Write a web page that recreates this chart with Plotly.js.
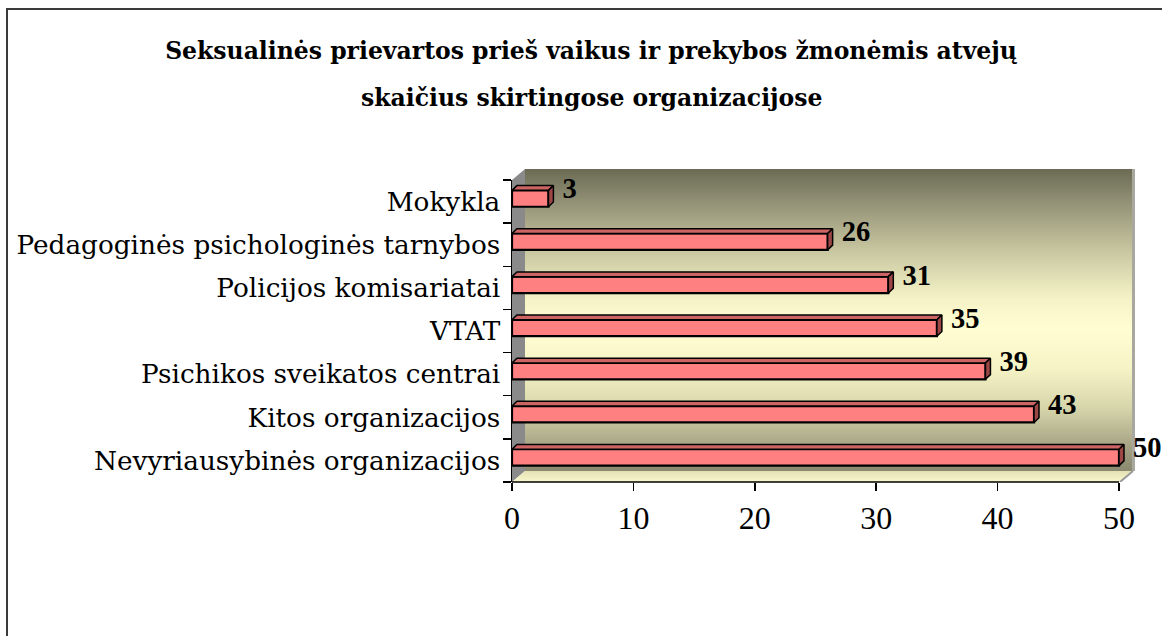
<!DOCTYPE html>
<html><head><meta charset="utf-8">
<script src="https://cdn.plot.ly/plotly-3.0.1.min.js"></script>
<style>html,body{margin:0;padding:0;background:#fff;overflow:hidden;} #chart{width:1162px;height:636px;}</style>
</head><body><div id="chart"></div>
<script>
// ---- data (bottom to top) ----
const categories = ['Nevyriausybinės organizacijos','Kitos organizacijos','Psichikos sveikatos centrai','VTAT','Policijos komisariatai','Pedagoginės psichologinės tarnybos','Mokykla'];
const values = [50, 43, 39, 35, 31, 26, 3];
const xTickVals = [0, 10, 20, 30, 40, 50];
const titleLine1 = 'Seksualinės prievartos prieš vaikus ir prekybos žmonėmis atvejų';
const titleLine2 = 'skaičius skirtingose organizacijose';

// ---- geometry / style ----
const W = 1162, H = 636;
const M = {l: 512, r: 2, t: 180, b: 154};
const plotW = W - M.l - M.r, plotH = H - M.t - M.b;
const axisEndPx = 1119;                                  // pixel where the axis maximum sits
const xMax = xTickVals[xTickVals.length - 1];
const xRangeMax = xMax * plotW / (axisEndPx - M.l);      // extra room on the right for 3D faces/labels
const barWidth = 0.38, barOffset = -0.12;                // category units
const depthX = 0.41, depthY = 0.11;                      // 3D depth in data units
const labelGap = 0.75;
const FRONT = '#ff8080', TOP = '#cc6464', SIDE = '#9c4646';

// ---- background wall (decoration) drawn on a canvas ----
const cw = 624, ch = 313, dX = 13, dY = 11;
const cv = document.createElement('canvas'); cv.width = cw; cv.height = ch;
const c = cv.getContext('2d');
const g = c.createLinearGradient(0, 0, 0, ch - dY);
[[0,'#6b6b55'],[0.1,'#8f8e73'],[0.27,'#c8c6a0'],[0.43,'#f5f3c6'],[0.53,'#fffdd2'],[0.66,'#f6f4c6'],[0.8,'#d4d2a8'],[0.93,'#a09e80'],[1,'#8a8970']]
  .forEach(s => g.addColorStop(s[0], s[1]));
c.fillStyle = g; c.fillRect(dX, 0, cw - dX - 4, ch - dY);
c.fillStyle = '#a8a8a0'; c.fillRect(cw - 4, 0, 3, ch - dY);
c.fillStyle = '#8a8a8a';
c.beginPath(); c.moveTo(0, dY); c.lineTo(dX, 0); c.lineTo(dX, ch - dY); c.lineTo(0, ch); c.closePath(); c.fill();
const fg = c.createLinearGradient(0, ch - dY, 0, ch);
fg.addColorStop(0, '#e4e2b4'); fg.addColorStop(1, '#f8f6cc');
c.fillStyle = fg;
c.beginPath(); c.moveTo(0, ch); c.lineTo(dX, ch - dY); c.lineTo(cw - 4, ch - dY); c.lineTo(cw - 4 - dX, ch); c.closePath(); c.fill();
c.strokeStyle = '#999'; c.lineWidth = 2;
c.beginPath(); c.moveTo(cw - 3, ch - dY); c.lineTo(cw - 3 - dX, ch); c.stroke();
const wallImg = cv.toDataURL('image/png');

// ---- 3D faces computed from data ----
const topX = [], topY = [], sideX = [], sideY = [];
values.forEach((v, i) => {
  const y0 = i + barOffset, y1 = i + barOffset + barWidth;
  topX.push(0, v, v + depthX, depthX, 0, null);
  topY.push(y1, y1, y1 + depthY, y1 + depthY, y1, null);
  sideX.push(v, v, v + depthX, v + depthX, v, null);
  sideY.push(y0, y1, y1 + depthY, y0 + depthY, y0, null);
});
const idx = values.map((v, i) => i);

const traces = [
  {type: 'bar', orientation: 'h', y: categories, x: values,
   width: barWidth, offset: barOffset,
   marker: {color: FRONT, line: {color: '#000', width: 2.2}},
   hoverinfo: 'x+y', showlegend: false},
  {type: 'scatter', mode: 'lines', x: topX, y: topY, yaxis: 'y2', fill: 'toself',
   fillcolor: TOP, line: {color: '#000', width: 1.5}, hoverinfo: 'skip', showlegend: false},
  {type: 'scatter', mode: 'lines', x: sideX, y: sideY, yaxis: 'y2', fill: 'toself',
   fillcolor: SIDE, line: {color: '#000', width: 1.5}, hoverinfo: 'skip', showlegend: false},
  {type: 'scatter', mode: 'text', x: values.map(v => v + depthX + labelGap), y: idx.map(i => i + 0.24), yaxis: 'y2',
   text: values.map(String), textposition: 'middle right',
   textfont: {family: 'Liberation Serif', size: 28.5, color: '#000', weight: 'bold'},
   cliponaxis: false, hoverinfo: 'skip', showlegend: false}
];

const titleFont = {family: 'DejaVu Serif', size: 23.5, color: '#000', weight: 'bold'};
const layout = {
  width: W, height: H, margin: M,
  paper_bgcolor: '#fff', plot_bgcolor: 'rgba(0,0,0,0)',
  title: {text: titleLine1, x: 591 / W, xanchor: 'center', y: 1 - 51 / H, yanchor: 'middle', yref: 'container', font: titleFont},
  annotations: [{text: titleLine2, xref: 'paper', yref: 'paper', x: (591 - M.l) / plotW, y: (H - M.b - 98) / plotH,
                 xanchor: 'center', yanchor: 'middle', showarrow: false, font: titleFont}],
  xaxis: {range: [0, xRangeMax], tickmode: 'array', tickvals: xTickVals, ticktext: xTickVals.map(String),
          showgrid: false, zeroline: false, showline: false,
          ticks: 'outside', ticklen: 8, tickwidth: 1.5, tickcolor: '#000', fixedrange: true,
          tickfont: {family: 'Liberation Serif', size: 32, color: '#000'}},
  yaxis: {type: 'category', categoryorder: 'array', categoryarray: categories, range: [-0.5, 6.5],
          tickson: 'boundaries', ticks: 'outside', ticklen: 8, tickwidth: 1.5, tickcolor: '#000', ticklabelstandoff: 5,
          showgrid: false, zeroline: false, showline: true, linecolor: '#000', linewidth: 1.5, fixedrange: true,
          tickfont: {family: 'DejaVu Serif', size: 26.3, color: '#000'}},
  yaxis2: {overlaying: 'y', range: [-0.5, 6.5], visible: false, fixedrange: true},
  images: [{source: wallImg, xref: 'paper', yref: 'paper', x: 0, y: (H - M.b - 169) / plotH,
            sizex: cw / plotW, sizey: ch / plotH, xanchor: 'left', yanchor: 'top', sizing: 'stretch', layer: 'below'}],
  shapes: [
    {type: 'line', xref: 'x', yref: 'paper', x0: 0, x1: xMax, y0: 0, y1: 0, line: {color: '#000', width: 1.5}, layer: 'above'},
    {type: 'rect', xref: 'paper', yref: 'paper', x0: (7 - M.l) / plotW, x1: (W + 20 - M.l) / plotW,
     y0: -(M.b + 20) / plotH, y1: (H - M.b - 9) / plotH, line: {color: '#3a3a3a', width: 2}, fillcolor: 'rgba(0,0,0,0)', layer: 'above'}
  ]
};

Plotly.newPlot('chart', traces, layout, {displayModeBar: false, staticPlot: true});
</script>
</body></html>
